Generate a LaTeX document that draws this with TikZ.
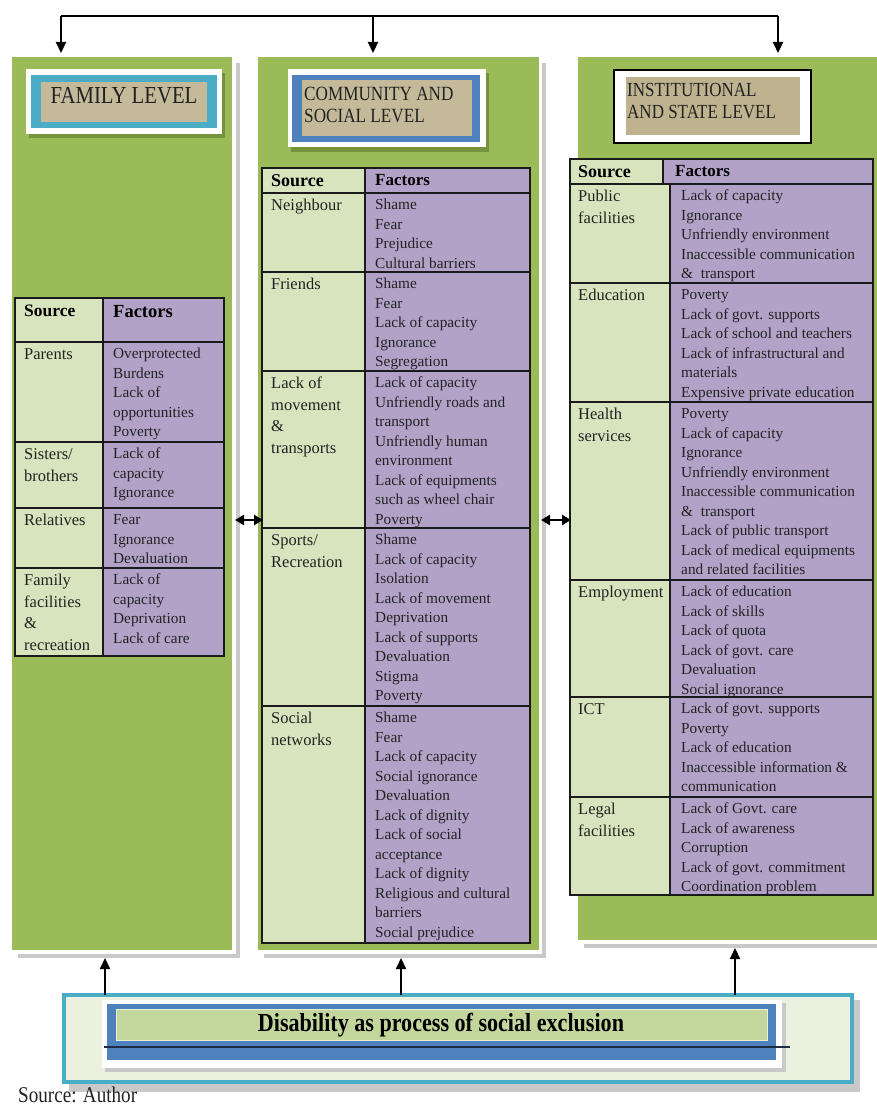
\documentclass[tikz,border=0pt]{standalone}
\usepackage{fontspec}
\setmainfont{Liberation Serif}
\newfontfamily\hdfont[FakeStretch=0.85]{Liberation Serif}
\usetikzlibrary{arrows.meta,calc}
\definecolor{pgreen}{HTML}{9BBB59}
\definecolor{pgreendk}{HTML}{76923C}
\definecolor{lgreen}{HTML}{D7E4BD}
\definecolor{lpurple}{HTML}{B3A2C7}
\definecolor{tanc}{HTML}{C4B999}
\definecolor{tanb}{HTML}{BFB38F}
\definecolor{cyanb}{HTML}{4BACC6}
\definecolor{blueb}{HTML}{4F81BD}
\definecolor{palegreen}{HTML}{EBF1DE}
\definecolor{midgreen}{HTML}{C3D69B}
\definecolor{txtc}{HTML}{222222}
\definecolor{shadowg}{HTML}{C9C9C9}
\definecolor{tborder}{HTML}{1A1A1A}
\definecolor{dkline}{HTML}{1F2A44}

\newcommand\mkrow[5]{%
  \pgfmathsetmacro\rw{\TB-\TA}%
  \pgfmathsetmacro\fw{\TC-\TB}%
  \pgfmathsetmacro\rh{#3-#2}%
  \node[srccell, minimum width=\rw pt, minimum height=\rh pt] (#1s) at (\TA,#2) {};
  \node[faccell, minimum width=\fw pt, minimum height=\rh pt] (#1f) at (\TB,#2) {};
  \pgfmathsetmacro\sdx{\SX-\TA}%
  \pgfmathsetmacro\fdx{\FX-\TB}%
  \node[stxt] (#1st) at ($(#1s.north west)+(\sdx,2)$) {\strut #4};
  \node[ftxt] (#1ft) at ($(#1f.north west)+(\fdx,3)$) {\strut #5};
}

\tikzset{
  box/.style={anchor=north west, inner sep=0pt, outer sep=0pt, draw=none},
  panel/.style={box, fill=pgreen},
  srccell/.style={box, fill=lgreen, draw=tborder, line width=1.8pt},
  faccell/.style={box, fill=lpurple, draw=tborder, line width=1.8pt},
  stxt/.style={anchor=north west, inner sep=0pt, align=left, text=txtc,
    font=\fontsize{16.5}{21.7}\selectfont},
  ftxt/.style={anchor=north west, inner sep=0pt, align=left, text=txtc,
    font=\fontsize{15.3}{19.5}\selectfont},
  hsrc/.style={anchor=west, inner sep=0pt, text=black, font=\bfseries\fontsize{17.5}{20}\selectfont},
  conn/.style={line width=2.2pt, black},
  arr/.style={conn, -{Triangle[width=10pt,length=11pt]}},
  darr/.style={conn, line width=2.6pt, {Triangle[width=10pt,length=9pt]}-{Triangle[width=10pt,length=9pt]}},
}

\begin{document}
\begin{tikzpicture}[x=1pt,y=-1pt]
\useasboundingbox (0,0) rectangle (876,1108);
\fill[white] (0,0) rectangle (876,1108);

% ---------- panels ----------
\fill[shadowg] (18,63) rectangle (240,958);
\fill[white] (14,59) rectangle (236,954);
\node[panel, minimum width=220pt, minimum height=893pt] (p1) at (12,57) {};

\fill[shadowg] (264,63) rectangle (546,958);
\fill[white] (260,59) rectangle (542,954);
\node[panel, minimum width=281pt, minimum height=893pt] (p2) at (258,57) {};

\fill[shadowg] (584,63) rectangle (890,948);
\fill[white] (580,59) rectangle (886,944);
\node[panel, minimum width=310pt, minimum height=883pt] (p3) at (578,57) {};

% ---------- top connectors ----------
\coordinate (tl) at (61,16);
\coordinate (tm) at (373,16);
\coordinate (tr) at (778,16);
\draw[conn] (tl) -- (tr);
\draw[arr, shorten >=4pt] (tl) -- (tl |- p1.north);
\draw[arr, shorten >=4pt] (tm) -- (tm |- p2.north);
\draw[arr, shorten >=4pt] (tr) -- (tr |- p3.north);

% ---------- header boxes ----------
\fill[pgreendk] (29,73) rectangle (225,138);
\node[box, fill=white, minimum width=196pt, minimum height=65pt] (h1w) at (26,69) {};
\node[box, fill=cyanb, minimum width=186pt, minimum height=53pt] (h1c) at (31,75) {};
\node[box, fill=tanc, minimum width=166pt, minimum height=40pt] (h1t) at (41,82) {};
\node[inner sep=0pt, text=txtc, font=\hdfont\fontsize{24.4}{26}\selectfont] (h1txt) at (124,96) {FAMILY LEVEL};

\fill[pgreendk] (291,73) rectangle (489,152);
\node[box, fill=white, minimum width=198pt, minimum height=78pt] (h2w) at (288,69) {};
\node[box, fill=blueb, minimum width=188pt, minimum height=67pt] (h2b) at (292,75) {};
\node[box, fill=tanc, minimum width=170pt, minimum height=56pt] (h2t) at (302,80) {};
\node[anchor=north west, inner sep=0pt, align=left, text=txtc, font=\hdfont\fontsize{20.2}{22}\selectfont] (h2txt) at (304,84.5) {\strut COMMUNITY AND\\SOCIAL LEVEL};

\node[box, fill=white, draw=black, line width=2pt, minimum width=197pt, minimum height=73pt] (h3w) at (614,70) {};
\node[box, fill=tanb, minimum width=174pt, minimum height=58pt] (h3t) at (626,77) {};
\node[anchor=north west, inner sep=0pt, align=left, text=txtc, font=\hdfont\fontsize{20}{22.5}\selectfont] (h3txt) at (627,80.5) {\strut INSTITUTIONAL\\AND STATE LEVEL};

% ---------- table 1 : family ----------
\node[srccell, minimum width=88pt, minimum height=44pt] (t1hs) at (15,298) {};
\node[faccell, minimum width=121pt, minimum height=44pt] (t1hf) at (103,298) {};
\node[hsrc] (t1hst) at (24,311) {Source};
\node[hsrc, font=\bfseries\fontsize{18.5}{20}\selectfont] (t1hft) at (113,312) {Factors};
\def\TA{15}\def\TB{103}\def\TC{224}\def\SX{24}\def\FX{113}
\mkrow{t1a}{342}{442}{Parents}{Overprotected\\Burdens\\Lack of\\opportunities\\Poverty}
\mkrow{t1b}{442}{508}{Sisters/\\brothers}{Lack of\\capacity\\Ignorance}
\mkrow{t1c}{508}{568}{Relatives}{Fear\\Ignorance\\Devaluation}
\mkrow{t1d}{568}{656}{Family\\facilities\\\&\\recreation}{Lack of\\capacity\\Deprivation\\Lack of care}

% ---------- table 2 : community ----------
\node[srccell, minimum width=103pt, minimum height=25pt] (t2hs) at (262,168) {};
\node[faccell, minimum width=165pt, minimum height=25pt] (t2hf) at (365,168) {};
\node[hsrc, font=\bfseries\fontsize{18}{20}\selectfont] (t2hst) at (271,181) {Source};
\node[hsrc, font=\bfseries\fontsize{17}{20}\selectfont] (t2hft) at (375,180) {Factors};
\def\TA{262}\def\TB{365}\def\TC{530}\def\SX{271}\def\FX{375}
\mkrow{t2a}{193}{272}{Neighbour}{Shame\\Fear\\Prejudice\\Cultural barriers}
\mkrow{t2b}{272}{371}{Friends}{Shame\\Fear\\Lack of capacity\\Ignorance\\Segregation}
\mkrow{t2c}{371}{528}{Lack of\\movement\\\&\\transports}{Lack of capacity\\Unfriendly roads and\\transport\\Unfriendly human\\environment\\Lack of equipments\\such as wheel chair\\Poverty}
\mkrow{t2d}{528}{706}{Sports/\\Recreation}{Shame\\Lack of capacity\\Isolation\\Lack of movement\\Deprivation\\Lack of supports\\Devaluation\\Stigma\\Poverty}
\mkrow{t2e}{706}{943}{Social\\networks}{Shame\\Fear\\Lack of capacity\\Social ignorance\\Devaluation\\Lack of dignity\\Lack of social\\acceptance\\Lack of dignity\\Religious and cultural\\barriers\\Social prejudice}

% ---------- table 3 : institutional ----------
\node[srccell, minimum width=93pt, minimum height=25pt] (t3hs) at (570,159) {};
\node[faccell, minimum width=210pt, minimum height=25pt] (t3hf) at (663,159) {};
\node[hsrc, font=\bfseries\fontsize{18}{20}\selectfont] (t3hst) at (578,172) {Source};
\node[hsrc, font=\bfseries\fontsize{17}{20}\selectfont] (t3hft) at (675,171) {Factors};
\def\TA{570}\def\TB{670}\def\TC{873}\def\SX{578}\def\FX{681}
\mkrow{t3a}{184}{283}{Public\\facilities}{Lack of capacity\\Ignorance\\Unfriendly environment\\Inaccessible communication\\\& \ transport}
\mkrow{t3b}{283}{402}{Education}{Poverty\\Lack of govt. supports\\Lack of school and teachers\\Lack of infrastructural and\\materials\\Expensive private education}
\mkrow{t3c}{402}{580}{Health\\services}{Poverty\\Lack of capacity\\Ignorance\\Unfriendly environment\\Inaccessible communication\\\& \ transport\\Lack of public transport\\Lack of medical equipments\\and related facilities}
\mkrow{t3d}{580}{697}{Employment}{Lack of education\\Lack of skills\\Lack of quota\\Lack of govt. care\\Devaluation\\Social ignorance}
\mkrow{t3e}{697}{797}{ICT}{Lack of govt. supports\\Poverty\\Lack of education\\Inaccessible information \&\\communication}
\mkrow{t3f}{797}{895}{Legal\\facilities}{Lack of Govt. care\\Lack of awareness\\Corruption\\Lack of govt. commitment\\Coordination problem}

% ---------- side double arrows ----------
\coordinate (d1a) at (235,520);
\coordinate (d1b) at (263,520);
\coordinate (d2a) at (541,520);
\coordinate (d2b) at (571,520);
\draw[darr] (d1a) -- (d1b);
\draw[darr] (d2a) -- (d2b);

% ---------- bottom box ----------
\fill[shadowg] (69,1000) rectangle (860,1092);
\node[box, draw=cyanb, line width=4pt, fill=palegreen, minimum width=788pt, minimum height=87pt] (bf) at (64,995) {};
\fill[shadowg] (105,1003) rectangle (786,1072);
\node[box, fill=white, minimum width=680pt, minimum height=68pt] (bw) at (102,1000) {};
\node[box, fill=blueb, minimum width=669pt, minimum height=56pt] (bb) at (107,1004) {};
\node[box, fill=midgreen, draw=white!60!midgreen, line width=1pt, minimum width=651pt, minimum height=31pt] (bg) at (116,1009) {};
\node[inner sep=0pt, text=black, font=\hdfont\bfseries\fontsize{26}{28}\selectfont] (btxt) at (441,1025) {Disability as process of social exclusion};
\coordinate (bl1) at (104,1047);
\coordinate (bl2) at (790,1047);
\draw[dkline, line width=2.2pt] (bl1) -- (bl2);

% ---------- bottom arrows ----------
\coordinate (u1) at (105,995);
\coordinate (u2) at (401,995);
\coordinate (u3) at (735,995);
\draw[arr, shorten >=8pt] (u1 |- bf.north) -- (u1 |- p1.south);
\draw[arr, shorten >=8pt] (u2 |- bf.north) -- (u2 |- p2.south);
\draw[arr, shorten >=8pt] (u3 |- bf.north) -- (u3 |- p3.south);

% ---------- source ----------
\node[anchor=west, inner sep=0pt, text=txtc, font=\hdfont\fontsize{22.5}{25}\selectfont] (src) at (18,1095) {Source: Author};
\end{tikzpicture}
\end{document}
